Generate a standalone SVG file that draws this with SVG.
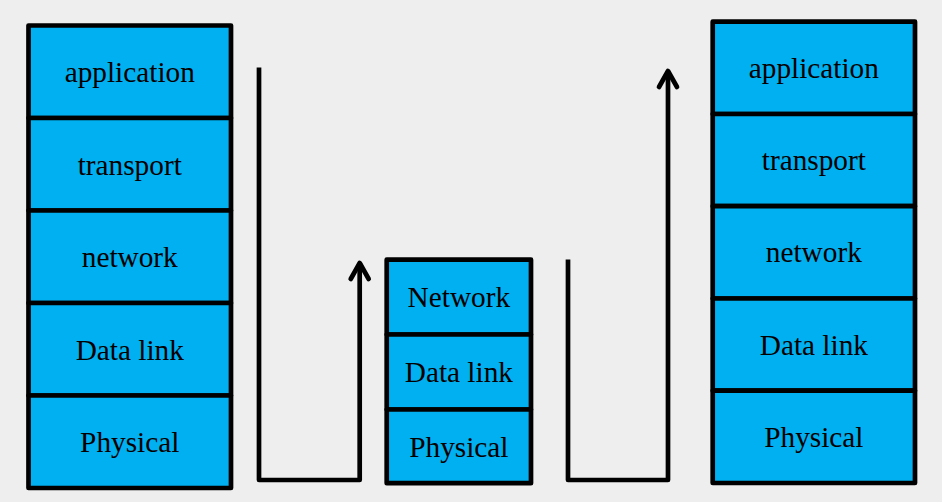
<svg xmlns="http://www.w3.org/2000/svg" width="942" height="502" viewBox="0 0 942 502">
<style>
.cell{fill:#00b0f0;stroke:#000;stroke-width:4.7;stroke-linejoin:round}
.lbl{font-family:"Liberation Serif","Times New Roman",serif;font-size:29.3px;fill:#000;text-anchor:middle}
.conn{fill:none;stroke:#000;stroke-width:4.7;stroke-linejoin:round;stroke-linecap:butt}
.head{fill:none;stroke:#000;stroke-width:4.7;stroke-linejoin:round;stroke-linecap:round}
</style>
<defs>
<marker id="arr" markerUnits="userSpaceOnUse" markerWidth="40" markerHeight="40" refX="0" refY="0" orient="auto" overflow="visible">
<path class="head" d="M-16,-9 L0,0 L-16,9"/>
</marker>
</defs>
<rect x="0" y="0" width="942" height="502" fill="#eeeeee"/>
<g id="connectors">
<path class="conn" d="M259 67.5 V480 H359.7 V263" marker-end="url(#arr)"/>
<path class="conn" d="M568 259.5 V480 H668 V71" marker-end="url(#arr)"/>
</g>
<g id="left-stack">
<g id="left-application"><rect class="cell" x="28.5" y="25.5" width="202.5" height="92.5"/><text class="lbl" x="129.75" y="82.2">application</text></g>
<g id="left-transport"><rect class="cell" x="28.5" y="118" width="202.5" height="92.5"/><text class="lbl" x="129.75" y="174.7">transport</text></g>
<g id="left-network"><rect class="cell" x="28.5" y="210.5" width="202.5" height="92.5"/><text class="lbl" x="129.75" y="267.2">network</text></g>
<g id="left-datalink"><rect class="cell" x="28.5" y="303" width="202.5" height="92.5"/><text class="lbl" x="129.75" y="359.7">Data link</text></g>
<g id="left-physical"><rect class="cell" x="28.5" y="395.5" width="202.5" height="92.5"/><text class="lbl" x="129.75" y="452.2">Physical</text></g>
</g>
<g id="middle-stack">
<g id="mid-network"><rect class="cell" x="386.7" y="259.7" width="144.3" height="74.8"/><text class="lbl" x="458.85" y="307">Network</text></g>
<g id="mid-datalink"><rect class="cell" x="386.7" y="334.5" width="144.3" height="75"/><text class="lbl" x="458.85" y="382">Data link</text></g>
<g id="mid-physical"><rect class="cell" x="386.7" y="409.5" width="144.3" height="73.7"/><text class="lbl" x="458.85" y="456.8">Physical</text></g>
</g>
<g id="right-stack">
<g id="right-application"><rect class="cell" x="712.7" y="21.7" width="202.3" height="92.3"/><text class="lbl" x="813.85" y="77.8">application</text></g>
<g id="right-transport"><rect class="cell" x="712.7" y="114" width="202.3" height="92.2"/><text class="lbl" x="813.85" y="170.1">transport</text></g>
<g id="right-network"><rect class="cell" x="712.7" y="206.2" width="202.3" height="92.3"/><text class="lbl" x="813.85" y="262.4">network</text></g>
<g id="right-datalink"><rect class="cell" x="712.7" y="298.5" width="202.3" height="92.2"/><text class="lbl" x="813.85" y="354.6">Data link</text></g>
<g id="right-physical"><rect class="cell" x="712.7" y="390.7" width="202.3" height="92.3"/><text class="lbl" x="813.85" y="446.9">Physical</text></g>
</g>
</svg>
